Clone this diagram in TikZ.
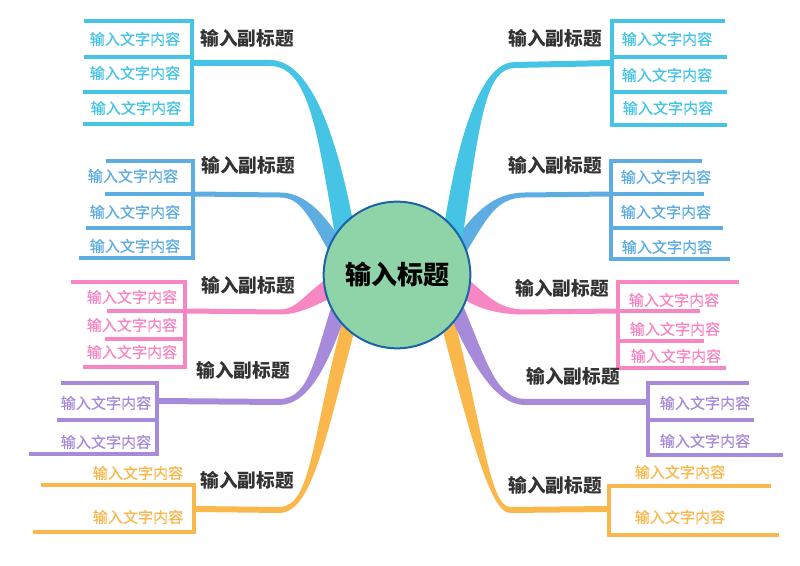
\documentclass[tikz,border=0pt]{standalone}
\usepackage{fontspec}
\newfontfamily\cjk{Noto Sans CJK SC}
\newfontfamily\cjkitem[FakeBold=0.7]{Noto Sans CJK SC}
\usetikzlibrary{calc}

\definecolor{cyanc}{HTML}{45C4E6}
\definecolor{bluec}{HTML}{5DADE2}
\definecolor{pinkc}{HTML}{F787C2}
\definecolor{purplec}{HTML}{A78BDA}
\definecolor{orangec}{HTML}{FAB74C}
\definecolor{titlefill}{HTML}{8FD3A9}
\definecolor{titleline}{HTML}{1B64A8}
\definecolor{subgray}{HTML}{333333}

% tapered branch: colour, start, knee, control, control, end, half width at start, half width at end
\newcommand\branchfill[8]{%
    \fill[#1] ($#2+#7$) -- ($#3+#7$) .. controls ($#4+#7$) and ($#5+#8$) .. ($#6+#8$)
        -- ($#6-#8$) .. controls ($#5-#8$) and ($#4-#7$) .. ($#3-#7$) -- ($#2-#7$) -- cycle;}

\begin{document}
\begin{tikzpicture}[x=0.75pt, y=-0.75pt,
        bar/.style={line width=3.6pt, line cap=rect},
        sub/.style={font=\cjk\bfseries\fontsize{14}{16}\selectfont, text=subgray},
        item/.style={font=\cjkitem\fontsize{11.3}{13}\selectfont}]
    \useasboundingbox (0,0) rectangle (800,566);

    \coordinate (laj) at (192,63);  \coordinate (laend) at (347,245);
    \coordinate (lbj) at (193,194); \coordinate (lbend) at (340,255);
    \coordinate (lcj) at (185,311); \coordinate (lcend) at (345,280);
    \coordinate (ldj) at (157,401); \coordinate (ldend) at (342,300);
    \coordinate (lej) at (194,509); \coordinate (leend) at (350,320);
    \coordinate (raj) at (612,63);  \coordinate (raend) at (452,240);
    \coordinate (rbj) at (611,194); \coordinate (rbend) at (455,255);
    \coordinate (rcj) at (618,311); \coordinate (rcend) at (455,282);
    \coordinate (rdj) at (648,402); \coordinate (rdend) at (452,300);
    \coordinate (rej) at (609,509); \coordinate (reend) at (446,315);

    % branches
    \branchfill{orangec}{(lej)}{(280,510)}{(312,508)}{(318,440)}{(leend)}{(0,-3)}{(-6.8,-1.8)}
    \branchfill{purplec}{(ldj)}{(280,402)}{(310,401)}{(322,360)}{(ldend)}{(0,-3)}{(-7.6,-2.5)}
    \branchfill{pinkc}{(lcj)}{(280,312)}{(300,312)}{(312,296)}{(lcend)}{(0,-2.5)}{(-4.4,-9)}
    \branchfill{bluec}{(lbj)}{(280,195)}{(300,195)}{(315,210)}{(lbend)}{(0,-2.5)}{(7,-3.9)}
    \branchfill{cyanc}{(laj)}{(270,63)}{(310,63)}{(328,135)}{(laend)}{(0,-3)}{(10,-1.7)}
    \branchfill{orangec}{(rej)}{(510,510)}{(490,510)}{(476,430)}{(reend)}{(0,-3)}{(6.8,-1.8)}
    \branchfill{purplec}{(rdj)}{(525,402)}{(495,402)}{(478,360)}{(rdend)}{(0,-3)}{(7.3,-3.2)}
    \branchfill{pinkc}{(rcj)}{(525,312)}{(495,312)}{(480,300)}{(rcend)}{(0,-2.5)}{(5.8,-8.1)}
    \branchfill{bluec}{(rbj)}{(525,195)}{(495,195)}{(480,215)}{(rbend)}{(0,-2.5)}{(-6.8,-4.2)}
    \branchfill{cyanc}{(raj)}{(515,65)}{(485,65)}{(470,120)}{(raend)}{(0,-3)}{(-9.9,-1.5)}

    % left brackets
    \draw[bar, cyanc] (192,21) -- (192,124);
    \foreach \y/\x in {21/86, 57/86, 92/85, 124/85} {\draw[bar, cyanc] (\x,\y) -- (192,\y);}
    \draw[bar, bluec] (193,161) -- (193,258);
    \foreach \y/\x in {161/108, 194/107, 228/88, 258/81} {\draw[bar, bluec] (\x,\y) -- (193,\y);}
    \draw[bar, pinkc] (185,282) -- (185,367);
    \foreach \y/\x in {282/73, 311/109, 339/107, 367/85} {\draw[bar, pinkc] (\x,\y) -- (185,\y);}
    \draw[bar, purplec] (157,383) -- (157,454);
    \foreach \y/\x in {383/63, 420/59, 454/31} {\draw[bar, purplec] (\x,\y) -- (157,\y);}
    \draw[bar, orangec] (194,485) -- (194,532);
    \foreach \y/\x in {485/43, 532/35} {\draw[bar, orangec] (\x,\y) -- (194,\y);}

    % right brackets
    \draw[bar, cyanc] (612,21) -- (612,125);
    \foreach \y/\x in {21/723, 57/725, 92/725, 125/725} {\draw[bar, cyanc] (612,\y) -- (\x,\y);}
    \draw[bar, bluec] (611,161) -- (611,259);
    \foreach \y/\x in {161/700, 194/702, 228/721, 259/728} {\draw[bar, bluec] (611,\y) -- (\x,\y);}
    \draw[bar, pinkc] (618,282) -- (618,368);
    \foreach \y/\x in {282/737, 311/698, 341/702, 368/724} {\draw[bar, pinkc] (618,\y) -- (\x,\y);}
    \draw[bar, purplec] (648,383) -- (648,455);
    \foreach \y/\x in {383/747, 420/752, 455/781} {\draw[bar, purplec] (648,\y) -- (\x,\y);}
    \draw[bar, orangec] (609,486) -- (609,535);
    \foreach \y/\x in {486/769, 535/777} {\draw[bar, orangec] (609,\y) -- (\x,\y);}

    % centre
    \node[circle, draw=titleline, line width=1.5pt, fill=titlefill, minimum size=110pt, inner sep=0pt,
        font=\cjk\bfseries\fontsize{19.5}{22}\selectfont] (title) at (397,275) {输入标题};

    % subtitles
    \node[sub] (las) at (247,38)  {输入副标题};
    \node[sub] (lbs) at (248,165) {输入副标题};
    \node[sub] (lcs) at (248,285) {输入副标题};
    \node[sub] (lds) at (243,370) {输入副标题};
    \node[sub] (les) at (247,480) {输入副标题};
    \node[sub] (ras) at (555,38)  {输入副标题};
    \node[sub] (rbs) at (555,165) {输入副标题};
    \node[sub] (rcs) at (562,288) {输入副标题};
    \node[sub] (rds) at (573,376) {输入副标题};
    \node[sub] (res) at (555,485) {输入副标题};

    % items
    \foreach \n/\x/\y in {1/135/39, 2/135/73, 3/136/108} {\node[item, text=cyanc] (la\n) at (\x,\y) {输入文字内容};}
    \foreach \n/\x/\y in {1/133/176, 2/135/212, 3/135/246} {\node[item, text=bluec] (lb\n) at (\x,\y) {输入文字内容};}
    \foreach \n/\x/\y in {1/132/297, 2/132/325, 3/132/352} {\node[item, text=pinkc] (lc\n) at (\x,\y) {输入文字内容};}
    \foreach \n/\x/\y in {1/106/403, 2/106/442} {\node[item, text=purplec] (ld\n) at (\x,\y) {输入文字内容};}
    \foreach \n/\x/\y in {1/138/473, 2/138/517} {\node[item, text=orangec] (le\n) at (\x,\y) {输入文字内容};}
    \foreach \n/\x/\y in {1/667/39, 2/667/75, 3/668/108} {\node[item, text=cyanc] (ra\n) at (\x,\y) {输入文字内容};}
    \foreach \n/\x/\y in {1/666/177, 2/666/212, 3/667/247} {\node[item, text=bluec] (rb\n) at (\x,\y) {输入文字内容};}
    \foreach \n/\x/\y in {1/674/300, 2/675/329, 3/676/356} {\node[item, text=pinkc] (rc\n) at (\x,\y) {输入文字内容};}
    \foreach \n/\x/\y in {1/705/403, 2/705/441} {\node[item, text=purplec] (rd\n) at (\x,\y) {输入文字内容};}
    \foreach \n/\x/\y in {1/680/472, 2/680/517} {\node[item, text=orangec] (re\n) at (\x,\y) {输入文字内容};}
\end{tikzpicture}
\end{document}
